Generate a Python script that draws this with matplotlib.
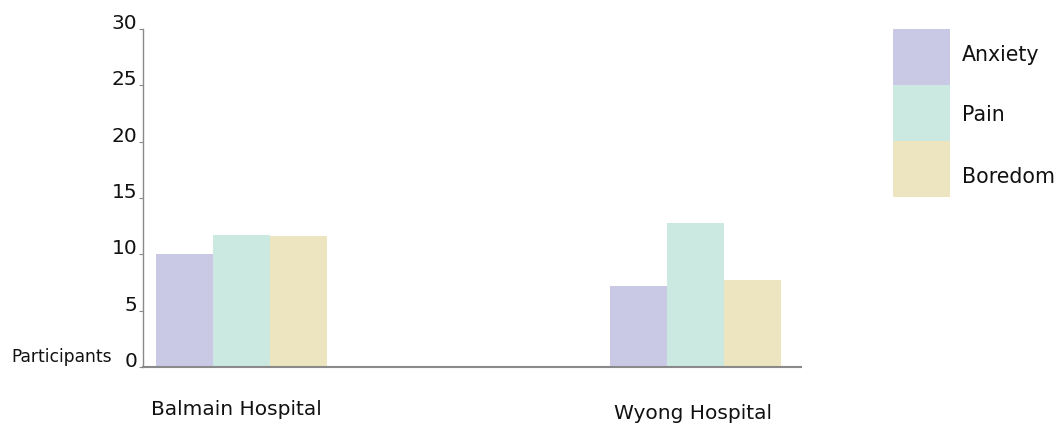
import matplotlib.pyplot as plt
from matplotlib.patches import Rectangle

# Participants reporting each symptom, per hospital
hospitals = ['Balmain Hospital', 'Wyong Hospital']
symptoms = ['Anxiety', 'Pain', 'Boredom']
anxiety = [10.0, 7.2]
pain = [11.7, 12.8]
boredom = [11.6, 7.7]
colors = ['#c9c9e6', '#cbe8e1', '#ede5bf']

series = [anxiety, pain, boredom]

fig = plt.figure(figsize=(10.64, 4.30), dpi=100)
ax = fig.add_axes([0.1344, 0.1465, 0.618, 0.7861])

width = 0.1256
for i, (values, color) in enumerate(zip(series, colors)):
    xs = [g + (i - 1) * width for g in range(len(hospitals))]
    ax.bar(xs, values, width=width, color=color, linewidth=0)

ax.set_xlim(-0.216, 1.231)
ax.set_ylim(0, 30)
ax.set_yticks(range(0, 31, 5))
ax.set_xticks([])

for side in ['top', 'right']:
    ax.spines[side].set_visible(False)
ax.spines['left'].set_color('#8a8a8a')
ax.spines['left'].set_linewidth(1.0)
ax.spines['bottom'].set_color('#8a8a8a')
ax.spines['bottom'].set_linewidth(1.5)
ax.tick_params(axis='y', length=3, width=0.8, color='#8a8a8a', pad=1,
               labelsize=14.5, labelcolor='#111111')
for lab in ax.get_yticklabels():
    lab.set_verticalalignment('baseline')

# hospital names under each group
ax.text(0 - 0.01, -3.8, hospitals[0], ha='center', va='center',
        fontsize=14.5, color='#111111')
ax.text(1 - 0.006, -4.1, hospitals[1], ha='center', va='center',
        fontsize=14.5, color='#111111')

fig.text(0.011, 1 - 357 / 430, 'Participants', ha='left', va='center',
         fontsize=12.3, color='#111111')

# legend as stacked colour blocks
box_w, box_h = 57 / 1064, 56 / 430
top = 1 - 29 / 430
label_y = [55, 115, 177]
for i, (name, color) in enumerate(zip(symptoms, colors)):
    y0 = top - (i + 1) * box_h
    fig.add_artist(Rectangle((893 / 1064, y0), box_w, box_h,
                             transform=fig.transFigure, color=color,
                             linewidth=0))
    fig.text(962 / 1064, 1 - label_y[i] / 430, name, ha='left',
             va='center', fontsize=14.8, color='#111111')

fig.savefig('out.png', dpi=100)
